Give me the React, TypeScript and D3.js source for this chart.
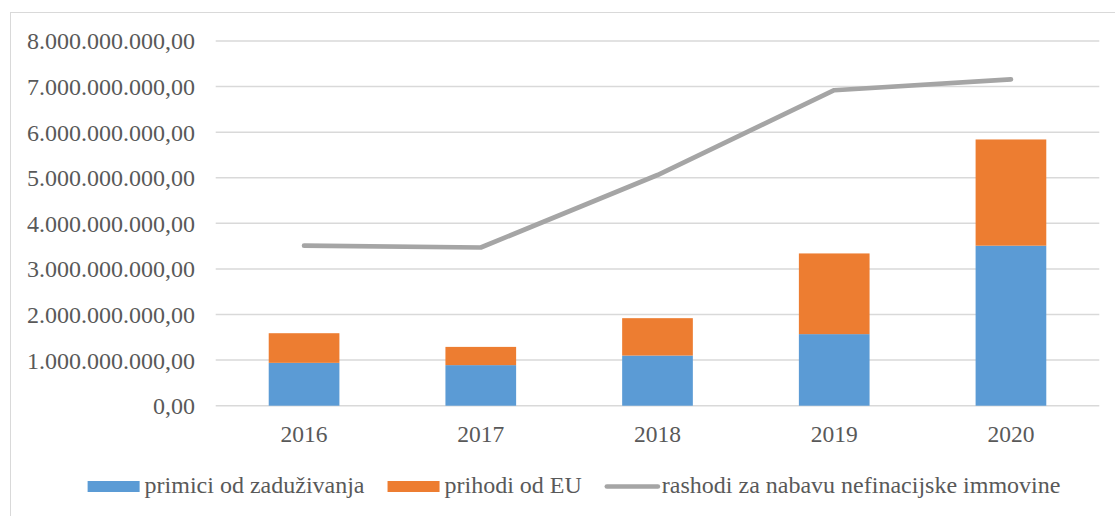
import React, { useRef, useEffect } from 'react';
import * as d3 from 'd3';

// values (in kuna)
const years = ['2016', '2017', '2018', '2019', '2020'];
const primiciOdZaduzivanja = [940e6, 890e6, 1100e6, 1570e6, 3510e6];
const prihodiOdEU = [650e6, 400e6, 820e6, 1770e6, 2330e6];
const rashodiNefinancijske = [3510e6, 3470e6, 5060e6, 6920e6, 7160e6];
const yTicks = [0, 1e9, 2e9, 3e9, 4e9, 5e9, 6e9, 7e9, 8e9];

const seriesNames = ['primici od zaduživanja', 'prihodi od EU', 'rashodi za nabavu nefinacijske immovine'];
const colors = ['#5b9bd5', '#ed7d31', '#a5a5a5'];

const FONT = "'Liberation Serif', Tinos, 'Times New Roman', 'DejaVu Serif', serif";

const App: React.FC = () => {
  const svgRef = useRef<SVGSVGElement | null>(null);

  useEffect(() => {
    const svg = d3.select(svgRef.current);
    svg.selectAll('*').remove();

    const width = 1115;
    const height = 516;
    const textColor = '#595959';

    svg.attr('width', width).attr('height', height).style('font-family', FONT);

    // chart frame
    svg
      .append('rect')
      .attr('x', 10.5)
      .attr('y', 12.5)
      .attr('width', 1300)
      .attr('height', 700)
      .attr('fill', 'white')
      .attr('stroke', '#d9d9d9')
      .attr('stroke-width', 1);

    const x = d3
      .scaleBand()
      .domain(years)
      .range([215.7, 1099.3])
      .paddingInner(0.6)
      .paddingOuter(0.3);

    const y = d3.scaleLinear().domain([0, 8e9]).range([405.7, 41]);

    const locale = d3.formatLocale({ decimal: ',', thousands: '.', grouping: [3], currency: ['', ''] });
    const fmt = locale.format(',.2f');

    // gridlines
    svg
      .append('g')
      .selectAll('line')
      .data(yTicks)
      .enter()
      .append('line')
      .attr('x1', 215.7)
      .attr('x2', 1099.3)
      .attr('y1', (d) => y(d))
      .attr('y2', (d) => y(d))
      .attr('stroke', '#d9d9d9')
      .attr('stroke-width', 1.5);

    // y labels
    svg
      .append('g')
      .selectAll('text')
      .data(yTicks)
      .enter()
      .append('text')
      .attr('x', 195)
      .attr('y', (d) => y(d))
      .attr('dy', '0.35em')
      .attr('text-anchor', 'end')
      .style('font-family', FONT)
      .attr('font-size', 24)
      .attr('fill', textColor)
      .text((d) => fmt(d));

    // x labels
    svg
      .append('g')
      .selectAll('text')
      .data(years)
      .enter()
      .append('text')
      .attr('x', (d) => x(d)! + x.bandwidth() / 2)
      .attr('y', 442)
      .attr('text-anchor', 'middle')
      .style('font-family', FONT)
      .attr('font-size', 23.5)
      .attr('fill', textColor)
      .text((d) => d);

    // stacked bars
    const table = years.map((yr, i) => ({ year: yr, a: primiciOdZaduzivanja[i], b: prihodiOdEU[i] }));
    const stacked = d3.stack<any>().keys(['a', 'b'])(table);

    svg
      .append('g')
      .selectAll('g')
      .data(stacked)
      .enter()
      .append('g')
      .attr('fill', (_, i) => colors[i])
      .selectAll('rect')
      .data((d) => d)
      .enter()
      .append('rect')
      .attr('x', (d: any) => x(d.data.year)!)
      .attr('y', (d) => y(d[1]))
      .attr('width', x.bandwidth())
      .attr('height', (d) => y(d[0]) - y(d[1]));

    // line
    const line = d3
      .line<number>()
      .x((_, i) => x(years[i])! + x.bandwidth() / 2)
      .y((d) => y(d));

    svg
      .append('path')
      .datum(rashodiNefinancijske)
      .attr('d', line)
      .attr('fill', 'none')
      .attr('stroke', colors[2])
      .attr('stroke-width', 4.7)
      .attr('stroke-linecap', 'round')
      .attr('stroke-linejoin', 'round');

    // legend
    const legend = svg.append('g');
    const items = legend
      .selectAll('g')
      .data(seriesNames)
      .enter()
      .append('g');

    items
      .append('text')
      .attr('x', 57)
      .attr('y', 493)
      .style('font-family', FONT)
      .attr('font-size', 24)
      .attr('fill', textColor)
      .text((d) => d);

    let cursor = 0;
    const offsets: number[] = [];
    items.each(function () {
      const w = (d3.select(this).select('text').node() as SVGTextElement).getComputedTextLength();
      offsets.push(cursor);
      cursor += 57 + w + 23;
    });
    const total = cursor - 23;
    const startX = 574 - total / 2;
    items.attr('transform', (_, i) => `translate(${startX + offsets[i]},0)`);

    items
      .filter((_, i) => i < 2)
      .append('rect')
      .attr('x', 0)
      .attr('y', 481)
      .attr('width', 52)
      .attr('height', 11)
      .attr('fill', (_, i) => colors[i]);

    items
      .filter((_, i) => i === 2)
      .append('line')
      .attr('x1', 2)
      .attr('x2', 53)
      .attr('y1', 486.5)
      .attr('y2', 486.5)
      .attr('stroke', colors[2])
      .attr('stroke-width', 4.7)
      .attr('stroke-linecap', 'round');
  }, []);

  return <svg ref={svgRef} style={{ position: 'absolute', left: 0, top: 0 }}></svg>;
};

export default App;
